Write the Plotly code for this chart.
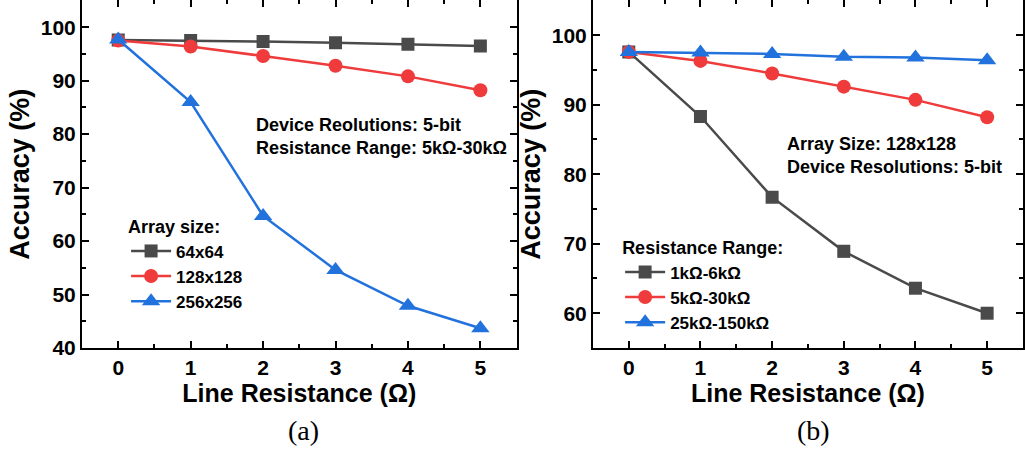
import plotly.graph_objects as go

x_vals = [0, 1, 2, 3, 4, 5]

# Panel (a): array size
a_names = ["64x64", "128x128", "256x256"]
a_64 = [97.6, 97.5, 97.3, 97.1, 96.8, 96.5]
a_128 = [97.5, 96.4, 94.6, 92.8, 90.8, 88.2]
a_256 = [97.7, 86.0, 64.7, 54.6, 47.9, 43.7]

# Panel (b): resistance range
b_names = ["1kΩ-6kΩ", "5kΩ-30kΩ", "25kΩ-150kΩ"]
b_1k = [97.6, 88.3, 76.7, 68.9, 63.6, 60.0]
b_5k = [97.6, 96.3, 94.5, 92.6, 90.7, 88.2]
b_25k = [97.6, 97.5, 97.3, 96.9, 96.8, 96.4]

colors = ["#4a4a4a", "#ef3b3b", "#2272dd"]
symbols = ["square", "circle", "triangle-up"]
sizes = [13, 14, 16]

FONT = "Liberation Sans, Arial, sans-serif"

fig = go.Figure()

for i, (name, ys) in enumerate(zip(a_names, [a_64, a_128, a_256])):
    fig.add_trace(go.Scatter(
        x=x_vals, y=ys, name=name, mode="lines+markers",
        line=dict(color=colors[i], width=2.5),
        marker=dict(symbol=symbols[i], size=sizes[i], color=colors[i]),
        xaxis="x", yaxis="y", legend="legend"))

for i, (name, ys) in enumerate(zip(b_names, [b_1k, b_5k, b_25k])):
    fig.add_trace(go.Scatter(
        x=x_vals, y=ys, name=name, mode="lines+markers",
        line=dict(color=colors[i], width=2.5),
        marker=dict(symbol=symbols[i], size=sizes[i], color=colors[i]),
        xaxis="x2", yaxis="y2", legend="legend2"))

axis_common = dict(
    showline=True, linecolor="black", linewidth=2, mirror="ticks",
    ticks="inside", ticklen=7, tickwidth=2, tickcolor="black",
    showgrid=False, zeroline=False, automargin=False,
    tickfont=dict(family=FONT, size=21, color="black", weight="bold"),
)

xtitle = dict(text="<b>Line Resistance (Ω)</b>", font=dict(family=FONT, size=25, color="black"), standoff=6)
ytitle = dict(text="<b>Accuracy (%)</b>", font=dict(family=FONT, size=27, color="black"), standoff=3)

legend_common = dict(xanchor="left", yanchor="top", bgcolor="rgba(0,0,0,0)",
                     tracegroupgap=0, itemwidth=40,
                     font=dict(family=FONT, size=17, color="black", weight="bold"))

fig.update_layout(
    width=1025, height=450,
    margin=dict(l=0, r=0, t=0, b=0, autoexpand=False),
    paper_bgcolor="white", plot_bgcolor="white",
    xaxis=dict(domain=[0.080, 0.504], range=[-0.5, 5.5], tickvals=x_vals,
               minor=dict(ticks="inside", ticklen=4, tickwidth=2, tickcolor="black", dtick=0.5, tick0=0.5),
               title=xtitle, anchor="y", **axis_common),
    yaxis=dict(domain=[0.2267, 0.999], range=[40, 105], tickvals=[40, 50, 60, 70, 80, 90, 100],
               minor=dict(ticks="inside", ticklen=4, tickwidth=2, tickcolor="black", dtick=5, tick0=45),
               title=ytitle, anchor="x", **axis_common),
    xaxis2=dict(domain=[0.5785, 0.998], range=[-0.5, 5.5], tickvals=x_vals,
                minor=dict(ticks="inside", ticklen=4, tickwidth=2, tickcolor="black", dtick=0.5, tick0=0.5),
                title=xtitle, anchor="y2", **axis_common),
    yaxis2=dict(domain=[0.2267, 0.999], range=[55, 105], tickvals=[60, 70, 80, 90, 100],
                minor=dict(ticks="inside", ticklen=4, tickwidth=2, tickcolor="black", dtick=5, tick0=55),
                title=ytitle, anchor="x2", **axis_common),
    legend=dict(x=0.123, y=1 - 210 / 450,
                title=dict(text="<b>Array size:</b>", font=dict(family=FONT, size=18, color="black")),
                **legend_common),
    legend2=dict(x=0.605, y=1 - 231 / 450,
                 title=dict(text="<b>Resistance Range:</b>", font=dict(family=FONT, size=18, color="black")),
                 **legend_common),
    showlegend=True,
)

annots = [
    dict(x=0.248, y=1 - 125 / 450, text="<b>Device Reolutions: 5-bit</b>"),
    dict(x=0.248, y=1 - 148 / 450, text="<b>Resistance Range: 5kΩ-30kΩ</b>"),
    dict(x=0.766, y=1 - 144 / 450, text="<b>Array Size: 128x128</b>"),
    dict(x=0.766, y=1 - 167 / 450, text="<b>Device Resolutions: 5-bit</b>"),
]
for a in annots:
    fig.add_annotation(xref="paper", yref="paper", xanchor="left", yanchor="middle",
                       showarrow=False, font=dict(family=FONT, size=18, color="black"), **a)

for txt, xc in [("(a)", 303 / 1025), ("(b)", 813 / 1025)]:
    fig.add_annotation(xref="paper", yref="paper", x=xc, y=1 - 430 / 450, text=txt,
                       xanchor="center", yanchor="middle", showarrow=False,
                       font=dict(family="Liberation Serif, Times New Roman, serif", size=28, color="black"))

fig.write_html("out.html")
